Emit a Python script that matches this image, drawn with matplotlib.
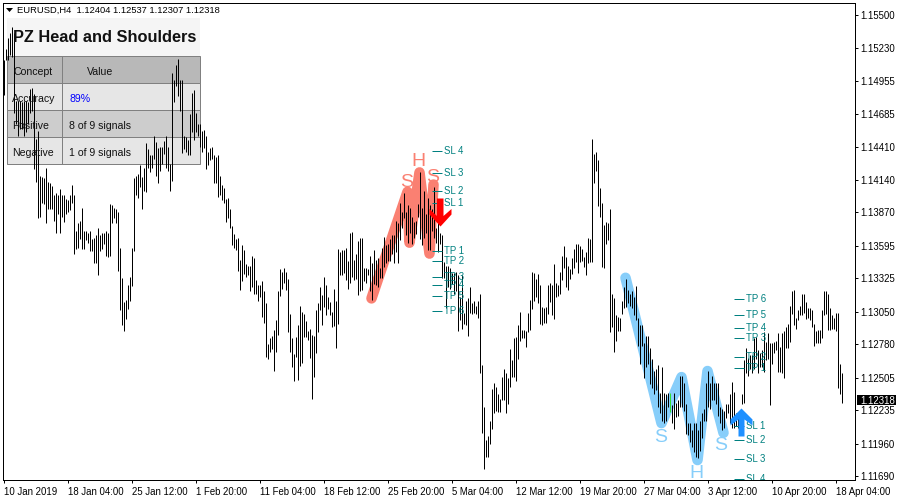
import matplotlib
matplotlib.use("Agg")
import matplotlib.pyplot as plt
from matplotlib.patches import Rectangle
from matplotlib.path import Path
from matplotlib.transforms import Affine2D

plt.rcParams['font.family'] = ['Liberation Sans', 'DejaVu Sans']

# Bar highs / lows, pips above 1.1000 (one H4 bar each)
high_pips = [
 513,522,531,535,540,535,479,479,479,478,479,479,478,489,490,485,448,454,417,416,
 415,424,412,411,409,401,403,401,406,401,401,398,397,401,410,401,372,378,380,391,
 372,372,370,372,365,366,368,374,368,370,370,372,370,394,393,391,390,387,358,333,
 313,315,327,334,
 358,415,417,419,426,416,424,444,439,434,434,450,445,440,441,441,446,450,441,427,
 502,496,509,514,496,496,450,449,447,468,486,488,469,460,460,454,455,450,437,440,
 441,434,433,434,417,410,407,398,399,390,376,369,365,366,348,360,356,344,343,343,
 351,349,331,327,327,330,322,312,278,283,285,290,298,322,340,338,341,338,332,303,
 283,270,284,294,310,305,303,297,289,291,286,285,306,312,325,319,334,327,317,313,
 305,324,314,357,354,356,356,358,347,370,371,348,353,363,366,366,341,341,340,351,
 345,356,348,349,341,358,367,360,361,365,368,368,380,378,395,387,403,387,393,391,
 383,379,380,394,420,391,405,386,399,393,390,408,374,379,370,368,346,343,343,341,
 337,337,338,335,317,335,304,314,316,325,312,314,310,314,320,261,226,199,202,215,
 241,246,243,237,233,251,258,254,250,274,265,283,284,294,305,290,290,289,304,315,
 338,337,332,336,327,309,308,309,327,329,327,344,329,327,338,351,359,350,343,340,
 349,357,361,361,359,357,350,354,366,365,448,435,437,430,407,395,377,379,378,390,
 320,316,302,301,300,314,325,332,323,320,322,317,326,300,294,294,279,285,285,275,
 266,256,258,261,238,259,238,237,238,238,228,238,230,232,252,252,246,229,213,213,
 207,213,213,207,215,221,225,246,256,246,252,246,246,246,226,225,223,229,229,237,
 247,239,221,222,222,237,265,275,267,269,269,283,284,273,271,273,288,280,287,279,
 279,280,281,287,276,287,289,292,295,310,322,323,300,306,310,320,320,313,308,308,
 306,295,289,290,290,306,322,322,320,308,302,300,304,304,262,254]
low_pips = [
 484,513,513,517,515,469,460,450,456,456,450,453,460,469,471,423,412,382,383,395,
 394,378,390,390,390,380,370,386,370,383,379,386,387,389,395,353,357,358,365,357,
 357,364,362,355,355,345,345,335,355,357,361,351,350,351,378,382,378,339,306,294,
 289,299,307,314,
 326,355,401,399,408,390,405,404,424,420,424,431,417,411,421,427,435,424,421,405,
 413,478,491,483,471,436,439,437,434,434,453,447,453,450,441,437,440,423,426,430,
 431,411,411,400,401,397,395,379,382,374,360,358,356,339,323,330,336,334,335,322,
 325,320,320,314,317,301,296,268,266,272,274,256,272,286,318,324,329,323,288,272,
 259,248,268,249,260,263,284,284,282,267,233,251,271,288,306,294,309,302,307,302,
 292,293,275,295,335,335,337,331,324,329,334,331,332,319,322,323,330,329,335,322,
 315,328,327,325,333,333,342,345,347,347,353,345,354,345,364,374,382,368,362,370,
 361,366,369,383,365,360,366,370,356,356,372,366,362,354,361,333,333,308,325,324,
 328,320,322,289,298,291,295,294,285,304,303,304,303,300,254,205,175,185,185,196,
 208,221,223,222,222,232,232,221,229,243,251,251,248,266,281,283,283,276,288,290,
 307,314,317,312,295,294,296,296,303,313,302,299,317,318,320,331,341,325,323,332,
 336,341,346,337,346,347,342,335,345,346,346,411,421,392,383,342,341,361,364,288,
 292,272,281,289,289,303,308,309,312,310,308,302,298,277,262,277,250,259,262,245,
 242,237,240,226,221,215,213,215,226,222,213,208,218,219,226,226,223,204,203,197,
 193,189,185,184,190,201,215,215,226,225,232,232,229,219,213,207,209,217,221,213,
 209,209,211,209,209,229,230,254,252,258,254,258,266,254,259,259,255,265,266,228,
 262,271,273,255,255,254,250,275,275,280,303,294,291,298,302,302,304,299,300,298,
 292,277,279,279,279,283,302,303,290,290,291,291,289,242,237,230]
green_bar = 333

# Head-and-shoulders patterns: bar index, price in pips
bear_idx = [184, 202, 203, 208, 213, 215]
bear_val = [316, 404, 362, 420, 353, 410]
bull_idx = [311, 329, 339, 347, 352, 360]
bull_val = [333, 213, 251, 182.5, 256, 205]

bear_letters = [('S', 201.5, 412), ('H', 207.5, 429), ('S', 214.5, 415.5)]
bull_letters = [('S', 328.5, 201.5), ('H', 346.5, 171.5), ('S', 358.5, 194.5)]

bear_levels = [('SL 4', 437.7), ('SL 3', 419.5), ('SL 2', 404.7), ('SL 1', 394.8),
               ('TP 1', 355.1), ('TP 2', 346.9), ('TP 3', 333.7), ('TP 4', 327.0),
               ('TP 5', 318.0), ('TP 6', 305.6)]
bull_levels = [('TP 6', 315.5), ('TP 5', 302.3), ('TP 4', 291.5), ('TP 3', 283.3),
               ('TP 2', 267.6), ('TP 1', 258.5), ('SL 1', 210.6), ('SL 2', 199.0),
               ('SL 3', 183.4), ('SL 4', 166.8)]
bear_level_bars = (214, 219)
bull_level_bars = (365, 370)
bear_arrow = (218.25, 387.3)
bull_arrow = (368.5, 213.9)

tick_bars = [0, 32, 64, 96, 128, 160, 192, 224, 256, 288, 320, 352, 384, 416]
tick_labels = ['10 Jan 2019', '18 Jan 04:00', '25 Jan 12:00', '1 Feb 20:00', '11 Feb 04:00',
               '18 Feb 12:00', '25 Feb 20:00', '5 Mar 04:00', '12 Mar 12:00', '19 Mar 20:00',
               '27 Mar 04:00', '3 Apr 12:00', '10 Apr 20:00', '18 Apr 04:00']
price_ticks = [1.15500, 1.15230, 1.14955, 1.14685, 1.14410, 1.14140, 1.13870, 1.13595,
               1.13325, 1.13050, 1.12780, 1.12505, 1.12235, 1.11960, 1.11690]
last_price = 1.12318
header = 'EURUSD,H4  1.12404 1.12537 1.12307 1.12318'
table_rows = [('Concept', 'Value'), ('Accuracy', '89%'),
              ('Positive', '8 of 9 signals'), ('Negative', '1 of 9 signals')]


def price(v):
    return 1.1 + v / 1e4


W, H = 900, 500
fig = plt.figure(figsize=(9, 5), dpi=100, facecolor='white')
L, R, T, B = 2.5, 854.5, 2.5, 479.5
ax = fig.add_axes([L / W, 1 - B / H, (R - L) / W, (B - T) / H])
ax.set_xlim((L - 3.5) / 2, (R - 3.5) / 2)
ax.set_ylim(price(562.4 - 0.8258 * B), price(562.4 - 0.8258 * T))
px = Affine2D().scale(1, -1).translate(0, H)   # pixel coordinates from the top left

for s in ax.spines.values():
    s.set_linewidth(0.72)
    s.set_color('black')
ax.yaxis.tick_right()
ax.set_yticks(price_ticks)
ax.set_yticklabels([f'{p:.5f}' for p in price_ticks], fontsize=6.9)
ax.set_xticks(tick_bars)
ax.set_xticklabels(tick_labels, fontsize=6.9, ha='left')
ax.tick_params(axis='both', length=2.5, width=0.72, pad=2)
ax.tick_params(axis='x', pad=3)

# Panel
panel_x0, panel_x1, col_x = 7.0, 200.0, 62.0
ax.add_patch(Rectangle((panel_x0, 18), panel_x1 - panel_x0, 38, transform=px, fc='#F5F5F5', ec='none', zorder=1))
row_cols = ['#B8B8B8', '#E6E6E6', '#CDCDCD', '#E6E6E6']
row_y = [56, 83, 110, 137]
for y, c in zip(row_y, row_cols):
    ax.add_patch(Rectangle((panel_x0, y), panel_x1 - panel_x0, 27, transform=px, fc=c, ec='#808080', lw=0.72, zorder=1))
    ax.add_line(plt.Line2D([col_x, col_x], [y, y + 27], transform=px, color='#808080', lw=0.72, zorder=1))
ax.text(13, 38, 'PZ Head and Shoulders', transform=px, fontsize=11.8, fontweight='bold', va='center', ha='left', zorder=5, color='#111111')
for (a, b), y in zip(table_rows, row_y):
    yc = y + 16
    ax.text(12 if a != 'Concept' else 14, yc, a, transform=px, fontsize=7.6, va='center', ha='left', zorder=5, color='#111111')
    col = '#0000FF' if b == '89%' else '#111111'
    ax.text(87 if b == 'Value' else 69, yc, b, transform=px, fontsize=7.6, va='center', ha='left', zorder=5, color=col)

# Patterns (under the bars)
for idx, val, col in ((bear_idx, bear_val, '#FA8072'), (bull_idx, bull_val, '#87CEFA')):
    ax.plot(idx, [price(v) for v in val], color=col, lw=7.6, solid_capstyle='round',
            solid_joinstyle='round', zorder=2)

# Bars
n = len(high_pips)
xs = list(range(n))
colors = ['#33DD33' if i == green_bar else 'black' for i in xs]
bars = ax.vlines(xs, [price(v) for v in low_pips], [price(v) for v in high_pips],
                 colors=colors, lw=0.72, zorder=3, capstyle='butt')
bars.set_snap(True)

# Letters
for items, col in ((bear_letters, '#FA8072'), (bull_letters, '#87CEFA')):
    for ch, i, v in items:
        ax.text(i, price(v), ch, color=col, fontsize=14, ha='center', va='center', zorder=4)

# Levels
teal = '#008080'
for levels, (b0, b1) in ((bear_levels, bear_level_bars), (bull_levels, bull_level_bars)):
    for lab, v in levels:
        dash = ax.hlines(price(v), b0, b1, color=teal, lw=0.72, zorder=4, capstyle='butt')
        dash.set_snap(True)
        ax.text(b1 + 1.5, price(v), lab, color=teal, fontsize=6.9, va='center', ha='left', zorder=4, clip_on=True)

# Arrows
down = [(-3.5, 14), (3, 14), (3, -3.5), (11, 3.5), (11, -2), (0, -14), (-11, -2), (-11, 3.5), (-3.5, -3.5), (-3.5, 14)]
up = [(-3, -14), (3, -14), (3, 3), (11, -3), (11, 3), (0, 14), (-11, 3), (-11, -3), (-3, 3), (-3, -14)]
ms = 2 * 14 * 0.72
ax.plot([bear_arrow[0]], [price(bear_arrow[1])], marker=Path(down), ms=ms, color='#FF0000', mew=0, ls='none', zorder=6)
ax.plot([bull_arrow[0]], [price(bull_arrow[1])], marker=Path(up), ms=ms, color='#1E90FF', mew=0, ls='none', zorder=6)

# Last-price tag
tag_y = 500 - ax.transData.transform((0, last_price))[1]
fig.patches.append(Rectangle((857, tag_y - 5), 39, 10, transform=px, fc='black', ec='none', figure=fig))
fig.text(860, tag_y, f'{last_price:.5f}', transform=px, color='white', fontsize=6.9, va='center_baseline', ha='left', zorder=5)

# Header
fig.patches.append(plt.Polygon([(6, 8), (13, 8), (9.5, 12)], closed=True, transform=px, fc='black', ec='none', figure=fig))
fig.text(17, 10.5, header, transform=px, fontsize=6.75, va='center', ha='left', color='black')

fig.savefig('out.png', dpi=100)
